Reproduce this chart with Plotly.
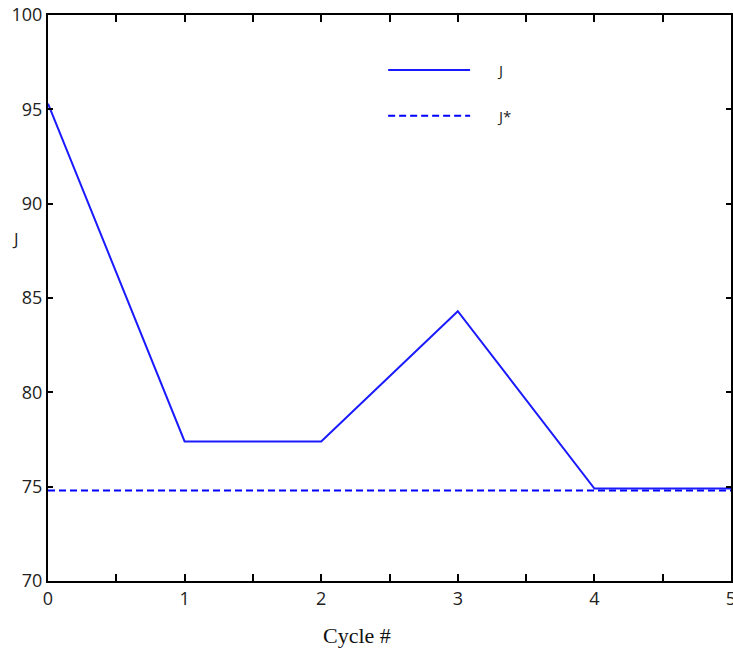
import plotly.graph_objects as go

cycles = [0, 1, 2, 3, 4, 5]
J = [95.3, 77.4, 77.4, 84.3, 74.9, 74.9]
J_star = [74.8, 74.8, 74.8, 74.8, 74.8, 74.8]
x_ticks = [0, 1, 2, 3, 4, 5]
y_ticks = [70, 75, 80, 85, 90, 95, 100]

fig = go.Figure()
fig.add_trace(go.Scatter(x=cycles, y=J_star, mode="lines",
                         line=dict(color="#0000ff", width=2, dash="7px,4px"),
                         showlegend=False, cliponaxis=False))
fig.add_trace(go.Scatter(x=cycles, y=J, mode="lines",
                         line=dict(color="#1a1aff", width=2),
                         showlegend=False, cliponaxis=False))

# manual legend
fig.add_shape(type="line", xref="paper", yref="paper", x0=0.498, x1=0.618, y0=0.903, y1=0.903,
              line=dict(color="#1a1aff", width=2))
fig.add_shape(type="line", xref="paper", yref="paper", x0=0.498, x1=0.618, y0=0.822, y1=0.822,
              line=dict(color="#0000ff", width=2, dash="7px,4px"))
fig.add_annotation(text="J", xref="paper", yref="paper", x=0.655, y=0.903, xanchor="left",
                   yanchor="middle", showarrow=False, font=dict(family="Open Sans", size=15, color="#222"))
fig.add_annotation(text="J*", xref="paper", yref="paper", x=0.655, y=0.822, xanchor="left",
                   yanchor="middle", showarrow=False, font=dict(family="Open Sans", size=15, color="#222"))
fig.add_annotation(text="J", xref="paper", yref="paper", x=-0.048, y=0.606, xanchor="center",
                   yanchor="middle", showarrow=False, font=dict(family="Open Sans", size=17, color="#222"))
fig.add_annotation(text="Cycle #", xref="paper", yref="paper", x=0.452, y=-0.097, xanchor="center",
                   yanchor="middle", showarrow=False,
                   font=dict(family="Liberation Serif", size=22, color="#111"))

axis_common = dict(showgrid=False, zeroline=False, showline=True, linecolor="black",
                   linewidth=2, mirror="ticks", ticks="inside", tickcolor="black",
                   tickwidth=2, automargin=False, ticklabeloverflow="allow",
                   tickfont=dict(family="Open Sans", size=18, color="#222"))
fig.update_xaxes(range=[0, 5], tickvals=x_ticks, ticklen=7,
                 minor=dict(dtick=0.5, ticks="inside", ticklen=7, tickwidth=2, tickcolor="black"),
                 **axis_common)
fig.update_yaxes(range=[70, 100], tickvals=y_ticks, ticklen=5, **axis_common)

fig.update_layout(width=733, height=652, margin=dict(l=48, r=2, t=15, b=71),
                  plot_bgcolor="white", paper_bgcolor="white")
fig.write_html("out.html", config={"responsive": False, "displayModeBar": False},
               post_script="document.body.style.margin='0px';document.body.style.overflow='hidden';")
